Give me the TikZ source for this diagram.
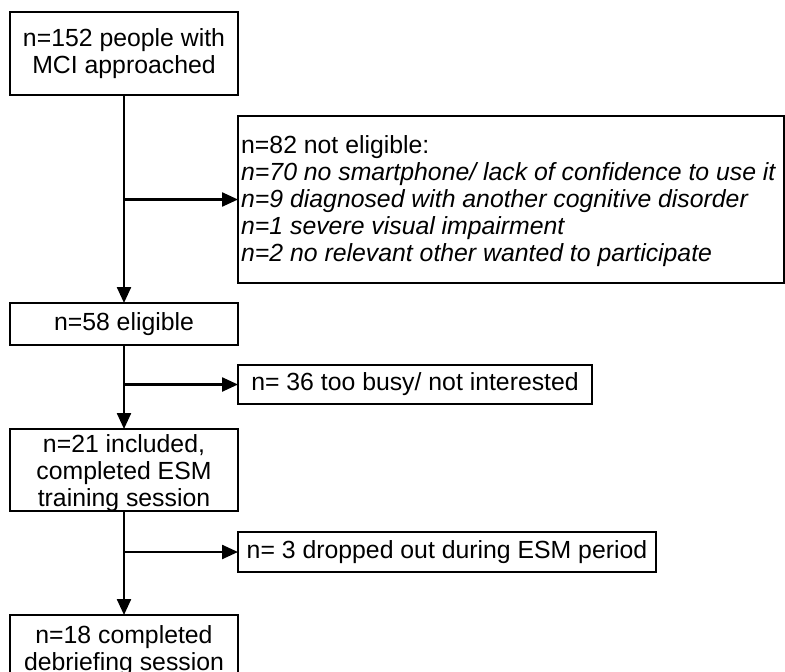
\documentclass[tikz,border=0pt]{standalone}
\usepackage{fontspec}
\setmainfont{Liberation Sans}
\usetikzlibrary{arrows.meta}
\begin{document}
\begin{tikzpicture}[x=1pt,y=-1pt,
  boxn/.style={draw=black,line width=2.4pt,anchor=north west,inner sep=0pt,outer sep=0pt},
  txt/.style={inner sep=0pt,font=\fontsize{24.8}{27}\selectfont,align=center},
  arr/.style={line width=2.4pt,-{Triangle[length=16pt,width=14pt]}}]
\clip (0,0) rectangle (785,672);
\fill[white] (0,0) rectangle (785,672);
% boxes
\node[boxn,minimum width=228pt,minimum height=83pt] (b1) at (10,12) {};
\node[boxn,minimum width=546pt,minimum height=167pt] (b2) at (238,116) {};
\node[boxn,minimum width=228pt,minimum height=42pt] (b3) at (10,303) {};
\node[boxn,minimum width=354pt,minimum height=39pt] (b4) at (238,365) {};
\node[boxn,minimum width=228pt,minimum height=82pt] (b5) at (10,429) {};
\node[boxn,minimum width=418pt,minimum height=40pt] (b6) at (238,532) {};
\node[boxn,minimum width=228pt,minimum height=80pt] (b7) at (10,615) {};
% texts
\node[txt] (t1) at (b1.center) {n=152 people with\\MCI approached};
\node[txt,anchor=west,align=left] (t2) at (241,201) {n=82 not eligible:\\
\itshape n=70 no smartphone/ lack of confidence to use it\\
\itshape n=9 diagnosed with another cognitive disorder\\
\itshape n=1 severe visual impairment\\
\itshape n=2 no relevant other wanted to participate};
\node[txt] (t3) at (b3.center) {n=58 eligible};
\node[txt] (t4) at (b4.center) {n= 36 too busy/ not interested};
\node[txt] (t5) at (124,473) {n=21 included,\\completed ESM\\training session};
\node[txt] (t6) at (b6.center) {n= 3 dropped out during ESM period};
\node[txt] (t7) at (124,651) {n=18 completed\\debriefing session};
% connectors
\coordinate (j1) at (124,199.5);
\coordinate (j2) at (124,384.5);
\coordinate (j3) at (124,552);
\draw[arr] (b1.south) -- (b3.north);
\draw[arr] (j1) -- (b2.west);
\draw[arr] (b3.south) -- (b5.north);
\draw[arr] (j2) -- (b4.west);
\draw[arr] (b5.south) -- (b7.north);
\draw[arr] (j3) -- (b6.west);
\end{tikzpicture}
\end{document}
